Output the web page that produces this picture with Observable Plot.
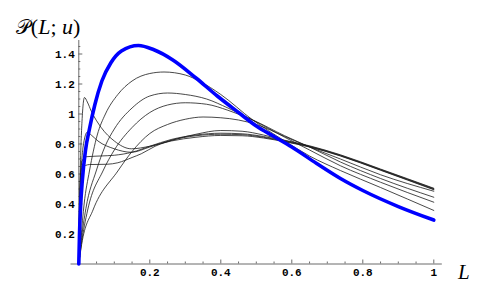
<!DOCTYPE html>
<html>
<head>
<meta charset="utf-8">
<script src="https://cdn.jsdelivr.net/npm/d3@7"></script>
<script src="https://cdn.jsdelivr.net/npm/@observablehq/plot@0.6"></script>
<style>
  html, body { margin: 0; padding: 0; background: #fff; }
</style>
</head>
<body>
<div id="chart"></div>
<script>
// ---- tick values and labels ----
const xMajor = [0.2, 0.4, 0.6, 0.8, 1];
const xLabels = ["0.2", "0.4", "0.6", "0.8", "1"];
const xMinor = [0.05, 0.1, 0.15, 0.25, 0.3, 0.35, 0.45, 0.5, 0.55, 0.65, 0.7, 0.75, 0.85, 0.9, 0.95];
const yMajor = [0.2, 0.4, 0.6, 0.8, 1, 1.2, 1.4];
const yLabels = ["0.2", "0.4", "0.6", "0.8", "1", "1.2", "1.4"];
const yMinor = [0.05, 0.1, 0.15, 0.25, 0.3, 0.35, 0.45, 0.5, 0.55, 0.65, 0.7, 0.75, 0.85, 0.9, 0.95, 1.05, 1.1, 1.15, 1.25, 1.3, 1.35, 1.45];
const xAxisLabel = "L";
const yAxisLabel = "𝒫(L; u)";
// pieces of the y title: [text, italic?]
const yAxisLabelParts = [["𝒫", false], ["(", false], ["L", true], ["; ", false], ["u", true], [")", false]];
const xAxisExtent = [-0.022, 1.024];
const yAxisExtent = [0, 1.49];

// ---- series: [L, P] pairs ----
const curveBlue = [[0,0],[0.002,0.2],[0.005,0.38],[0.01,0.56],[0.019,0.76],[0.03,0.9],[0.045,1.06],[0.065,1.22],[0.09,1.34],[0.12,1.42],[0.168,1.457],[0.21,1.43],[0.267,1.357],[0.33,1.24],[0.39,1.12],[0.45,1.01],[0.5,0.92],[0.55,0.85],[0.6,0.78],[0.67,0.67],[0.737,0.57],[0.8,0.49],[0.9,0.383],[1,0.293]];
const curve1 = [[0,0],[0.006,0.17],[0.015,0.4],[0.03,0.62],[0.052,0.86],[0.075,1.0],[0.11,1.13],[0.15,1.22],[0.2,1.27],[0.24,1.28],[0.3,1.26],[0.343,1.215],[0.4,1.13],[0.49,0.96],[0.58,0.82],[0.65,0.72],[0.737,0.623],[0.85,0.51],[1,0.357]];
const curve2 = [[0,0],[0.006,0.14],[0.02,0.37],[0.049,0.62],[0.075,0.79],[0.1,0.9],[0.15,1.04],[0.2,1.12],[0.25,1.14],[0.3,1.13],[0.36,1.1],[0.42,1.04],[0.49,0.96],[0.58,0.845],[0.65,0.76],[0.737,0.655],[0.85,0.545],[1,0.412]];
const curve3 = [[0,0],[0.007,0.13],[0.025,0.36],[0.068,0.62],[0.1,0.76],[0.15,0.91],[0.2,1.01],[0.25,1.06],[0.3,1.075],[0.36,1.065],[0.42,1.025],[0.49,0.96],[0.58,0.855],[0.65,0.78],[0.737,0.68],[0.85,0.57],[1,0.445]];
const curve4 = [[0,0],[0.008,0.13],[0.04,0.36],[0.11,0.62],[0.15,0.75],[0.2,0.87],[0.25,0.93],[0.3,0.965],[0.35,0.98],[0.4,0.975],[0.45,0.96],[0.5,0.93],[0.58,0.85],[0.65,0.78],[0.737,0.7],[0.85,0.595],[1,0.485]];
const curve5 = [[0,0],[0.004,0.6],[0.009,0.95],[0.016,1.11],[0.024,1.08],[0.035,1.02],[0.063,0.91],[0.1,0.82],[0.148,0.768],[0.2,0.785],[0.26,0.82],[0.33,0.845],[0.4,0.857],[0.46,0.855],[0.52,0.84],[0.58,0.815],[0.65,0.78],[0.737,0.72],[0.85,0.625],[1,0.495]];
const curve6 = [[0,0],[0.005,0.5],[0.012,0.78],[0.024,0.879],[0.035,0.86],[0.054,0.82],[0.1,0.768],[0.148,0.745],[0.2,0.78],[0.26,0.825],[0.33,0.855],[0.4,0.865],[0.46,0.862],[0.52,0.845],[0.58,0.818],[0.65,0.782],[0.737,0.722],[0.85,0.627],[1,0.498]];
const curve7 = [[0,0],[0.003,0.5],[0.008,0.68],[0.02,0.715],[0.06,0.72],[0.1,0.725],[0.15,0.745],[0.2,0.785],[0.26,0.83],[0.33,0.86],[0.4,0.872],[0.46,0.868],[0.52,0.85],[0.58,0.822],[0.65,0.785],[0.737,0.725],[0.85,0.63],[1,0.502]];
const curve8 = [[0,0],[0.003,0.45],[0.008,0.64],[0.03,0.663],[0.08,0.665],[0.11,0.675],[0.15,0.71],[0.176,0.735],[0.215,0.785],[0.27,0.83],[0.33,0.865],[0.4,0.89],[0.46,0.885],[0.52,0.86],[0.58,0.825],[0.65,0.788],[0.737,0.728],[0.85,0.633],[1,0.505]];
const blackCurves = [curve1, curve2, curve3, curve4, curve5, curve6, curve7, curve8];

const axisColor = "#6b6b6b";
const tickFont = "'Liberation Mono', 'DejaVu Sans Mono', monospace";
const serifFont = "'Liberation Serif', 'DejaVu Serif', serif";

const blackRows = blackCurves.flatMap((c, i) => c.map(([L, P]) => ({L, P, s: i})));
const blueRows = curveBlue.map(([L, P]) => ({L, P}));

const chart = Plot.plot({
  width: 491,
  height: 297,
  marginLeft: 78.3,
  marginRight: 57.7,
  marginTop: 38.5,
  marginBottom: 33.5,
  x: {domain: [0, 1]},
  y: {domain: [0, 1.5]},
  style: {background: "#fff", color: "#000", overflow: "visible"},
  marks: [
    // axis lines through the origin
    Plot.ruleY([0], {x1: xAxisExtent[0], x2: xAxisExtent[1], stroke: axisColor, strokeWidth: 1}),
    Plot.ruleX([0], {y1: yAxisExtent[0], y2: yAxisExtent[1], stroke: axisColor, strokeWidth: 1}),
    // ticks (pointing inward)
    Plot.axisX(xMinor, {anchor: "bottom", tickSize: -2, text: null, label: null, stroke: axisColor}),
    Plot.axisX(xMajor, {anchor: "bottom", tickSize: -4, text: null, label: null, stroke: axisColor}),
    Plot.axisY(yMinor, {anchor: "left", tickSize: -2, text: null, label: null, stroke: axisColor}),
    Plot.axisY(yMajor, {anchor: "left", tickSize: -4, text: null, label: null, stroke: axisColor}),
    // tick labels
    Plot.axisX(xMajor, {anchor: "bottom", tickSize: 0, tickPadding: 4.5, label: null,
      tickFormat: (d) => xLabels[xMajor.indexOf(d)], fontFamily: tickFont, fontWeight: "bold", fontSize: 11, fill: "#000"}),
    Plot.axisY(yMajor, {anchor: "left", tickSize: 0, tickPadding: 4, label: null,
      tickFormat: (d) => yLabels[yMajor.indexOf(d)], fontFamily: tickFont, fontWeight: "bold", fontSize: 11, fill: "#000"}),
    // curves
    Plot.line(blackRows, {x: "L", y: "P", z: "s", stroke: "#1a1a1a", strokeWidth: 0.8, curve: "monotone-x"}),
    Plot.line(blueRows, {x: "L", y: "P", stroke: "#0000ff", strokeWidth: 3.6, curve: "monotone-x"}),
    // axis titles
    Plot.text([xAxisLabel], {frameAnchor: "bottom-right", dx: 30, dy: 8, text: (d) => d,
      fontFamily: serifFont, fontStyle: "italic", fontSize: 21, textAnchor: "middle", lineAnchor: "middle", fill: "#000"}),
    Plot.text([yAxisLabel], {frameAnchor: "top-left", dx: -63, dy: -12, text: (d) => d,
      fontFamily: serifFont, fontSize: 22, textAnchor: "start", lineAnchor: "middle", fill: "#000"})
  ]
});

// style the y title: italic L and u, upright script P and punctuation
d3.select(chart).selectAll("text").filter(function () { return this.textContent === yAxisLabel; })
  .each(function () {
    const t = d3.select(this);
    t.text(null);
    yAxisLabelParts.forEach(([s, it], i) => {
      const sp = t.append("tspan").text(s);
      if (it) sp.attr("font-style", "italic");
      if (i === 0) sp.attr("font-family", "'DejaVu Serif', serif").attr("font-size", 20);
      if (i === 1) sp.attr("dx", 1);
    });
  });

document.getElementById("chart").appendChild(chart);
</script>
</body>
</html>
